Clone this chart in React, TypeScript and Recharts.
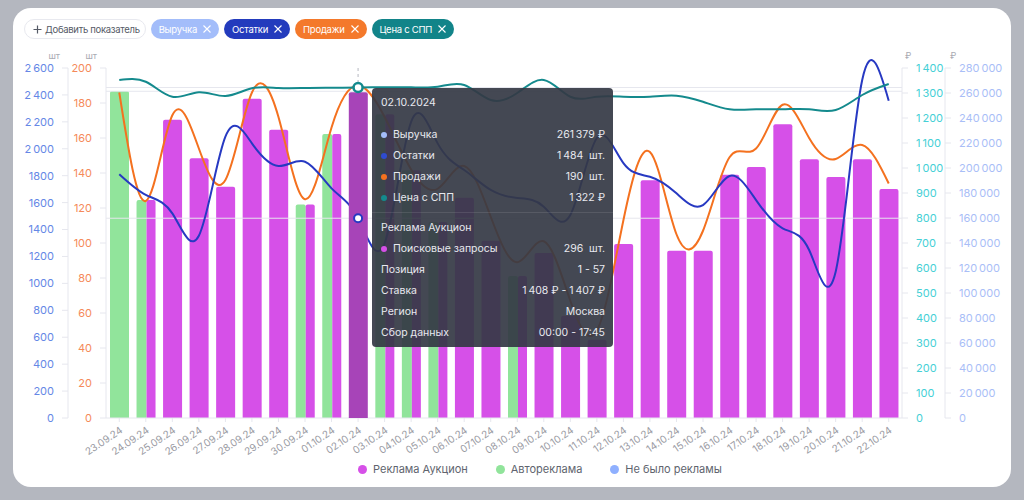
import React from "react";
import { ComposedChart, Bar, Line, XAxis, YAxis, Tooltip, ReferenceLine } from "recharts";

// ── data ────────────────────────────────────────────────────────────────
const DATES = [
  "23.09.24", "24.09.24", "25.09.24", "26.09.24", "27.09.24", "28.09.24", "29.09.24", "30.09.24",
  "01.10.24", "02.10.24", "03.10.24", "04.10.24", "05.10.24", "06.10.24", "07.10.24", "08.10.24",
  "09.10.24", "10.10.24", "11.10.24", "12.10.24", "13.10.24", "14.10.24", "15.10.24", "16.10.24",
  "17.10.24", "18.10.24", "19.10.24", "20.10.24", "21.10.24", "22.10.24",
];
// auto = Автореклама, auction = Реклама Аукцион, mixed = both
const AD_TYPES = [
  "auto", "mixed", "auction", "auction", "auction", "auction", "auction", "mixed",
  "mixed", "auction", "mixed", "mixed", "mixed", "auction", "auction", "mixed",
  "auction", "auction", "auction", "auction", "auction", "auction", "auction", "auction",
  "auction", "auction", "auction", "auction", "auction", "auction",
];
const QUERIES = [297, 198, 271, 236, 210, 290, 262, 194, 258, 296, 276, 225, 178, 200, 161, 129, 150, 93, 71, 158, 216, 152, 152, 221, 228, 267, 235, 219, 235, 208];
const STOCK = [1810, 1657, 1520, 1354, 2090, 2040, 1872, 1904, 1706, 1484, 1298, 2200, 2040, 1842, 1694, 1634, 1570, 1508, 2080, 1894, 1792, 1669, 1582, 1798, 1619, 1409, 1248, 1087, 2511, 2357];
const SALES = [186, 124, 173, 154, 136, 186, 172, 125, 166, 190, 172, 142, 131, 144, 115, 89, 101, 67, 50, 113, 152, 105, 107, 149, 154, 179, 160, 148, 156, 134];
const PRICE = [1352, 1345, 1285, 1303, 1288, 1319, 1320, 1320, 1321, 1322, 1323, 1323, 1325, 1332, 1272, 1300, 1352, 1285, 1285, 1285, 1285, 1289, 1265, 1235, 1235, 1235, 1235, 1232, 1292, 1336];

const STOCK_TICKS = [0, 200, 400, 600, 800, 1000, 1200, 1400, 1600, 1800, 2000, 2200, 2400, 2600];
const SALES_TICKS = [0, 20, 40, 60, 80, 100, 120, 140, 160, 180, 200];
const PRICE_TICKS = [0, 100, 200, 300, 400, 500, 600, 700, 800, 900, 1000, 1100, 1200, 1300, 1400];
const REVENUE_TICKS = [0, 20000, 40000, 60000, 80000, 100000, 120000, 140000, 160000, 180000, 200000, 220000, 240000, 260000, 280000];

const ACTIVE_INDEX = 9;
const ACTIVE_REVENUE = 261379;
const ACTIVE_DETAILS = [
  ["Позиция", "1 - 57"],
  ["Ставка", "1\u202f408 ₽ - 1\u202f407 ₽"],
  ["Регион", "Москва"],
  ["Сбор данных", "00:00 - 17:45"],
];

const BLUE = "#2739c2";
const ORANGE = "#f4711f";
const TEAL = "#148a8d";
const PURPLE = "#d650e8";
const PURPLE_ACTIVE = "#a744b8";
const GREEN = "#91e49b";
const LIGHT_BLUE = "#a3bdfa";

const CHIPS = [
  { label: "Выручка", color: LIGHT_BLUE },
  { label: "Остатки", color: "#233bbd" },
  { label: "Продажи", color: "#f4792b" },
  { label: "Цена с СПП", color: "#128489" },
];
const LEGEND = [
  { label: "Реклама Аукцион", color: PURPLE },
  { label: "Автореклама", color: GREEN },
  { label: "Не было рекламы", color: "#8fb0ff" },
];

const data = DATES.map((date, i) => ({
  date, type: AD_TYPES[i], queries: QUERIES[i], stock: STOCK[i], sales: SALES[i], price: PRICE[i],
}));

const FONT = "Inter, 'Noto Sans', sans-serif";
const GRID = "#e6e7ee";
// narrow no-break space: thin gap like the original, and recharts won't wrap it
const spaced = (v: number) => v.toString().replace(/\B(?=(\d{3})+(?!\d))/g, "\u202f");

// ── pieces ──────────────────────────────────────────────────────────────
const topRound = (x: number, y: number, w: number, h: number, r: number) =>
  `M${x},${y + h} L${x},${y + r} Q${x},${y} ${x + r},${y} L${x + w - r},${y} Q${x + w},${y} ${x + w},${y + r} L${x + w},${y + h} Z`;

/* eslint-disable @typescript-eslint/no-explicit-any */
function AdBar({ x, y, width, height, payload, highlighted }: any) {
  if (!height || height <= 0) return null;
  const main = highlighted ? PURPLE_ACTIVE : PURPLE;
  if (payload.type === "auto") return <path d={topRound(x, y, width, height, 2)} fill={GREEN} />;
  if (payload.type === "mixed") {
    const w1 = (width * 10) / 19;
    return (
      <g>
        <path d={topRound(x, y, w1, height, 2)} fill={GREEN} />
        <path d={topRound(x + w1, y, width - w1, height, 2)} fill={main} />
      </g>
    );
  }
  return <path d={topRound(x, y, width, height, 2)} fill={main} />;
}

function DateTick({ x, y, payload }: any) {
  const tx = x + 4;
  const ty = y + 8;
  return (
    <text x={tx} y={ty} transform={`rotate(-34 ${tx} ${ty})`} textAnchor="end" fontSize={10} fill="#9a9ba3" fontFamily={FONT}>
      {payload.value}
    </text>
  );
}

const unit = (text: string, dx: (w: number) => number, anchor: "start" | "end") => ({
  content: ({ viewBox }: any) =>
    viewBox ? (
      <text x={viewBox.x + dx(viewBox.width)} y={viewBox.y - 9} textAnchor={anchor} fontSize={9} fill="#a9aab2" fontFamily={FONT}>
        {text}
      </text>
    ) : null,
});

function Tip({ active, label }: any) {
  if (!active) return null;
  const row = data.find((d) => d.date === label);
  if (!row) return null;
  const full = row.date.slice(0, 6) + "20" + row.date.slice(6);
  const lines = [
    { name: "Выручка", color: LIGHT_BLUE, value: `${spaced(ACTIVE_REVENUE)} ₽` },
    { name: "Остатки", color: "#2f4bd0", value: `${spaced(row.stock)}  шт.` },
    { name: "Продажи", color: ORANGE, value: `${row.sales}  шт.` },
    { name: "Цена с СПП", color: TEAL, value: `${spaced(row.price)} ₽` },
  ];
  const rowStyle: React.CSSProperties = { display: "flex", alignItems: "center", height: 21, justifyContent: "space-between" };
  return (
    <div style={{
      width: 241, height: 259, boxSizing: "border-box", padding: "6px 8px 0 9px", borderRadius: 4,
      background: "rgba(52,56,68,0.92)", color: "#e8e9ef", fontSize: 10.5, fontFamily: FONT,
    }}>
      <div style={{ height: 18, lineHeight: "18px", marginBottom: 12 }}>{full}</div>
      {lines.map((l) => (
        <div key={l.name} style={rowStyle}>
          <span style={{ display: "flex", alignItems: "center" }}>
            <span style={{ width: 6, height: 6, borderRadius: 3, background: l.color, marginRight: 6 }} />
            {l.name}
          </span>
          <span style={{ whiteSpace: "pre" }}>{l.value}</span>
        </div>
      ))}
      <div style={{ height: 1, background: "rgba(255,255,255,0.1)", margin: "4px -8px 4px -9px" }} />
      <div style={rowStyle}>Реклама Аукцион</div>
      <div style={rowStyle}>
        <span style={{ display: "flex", alignItems: "center" }}>
          <span style={{ width: 6, height: 6, borderRadius: 3, background: PURPLE, marginRight: 6 }} />
          Поисковые запросы
        </span>
        <span style={{ whiteSpace: "pre" }}>{`${row.queries}  шт.`}</span>
      </div>
      {ACTIVE_DETAILS.map(([k, v]) => (
        <div key={k} style={rowStyle}>
          <span>{k}</span>
          <span>{v}</span>
        </div>
      ))}
    </div>
  );
}
/* eslint-enable @typescript-eslint/no-explicit-any */

function XIcon({ color }: { color: string }) {
  return (
    <svg width="8" height="8" viewBox="0 0 8 8" style={{ marginLeft: 6 }}>
      <path d="M0.5 0.5 L7.5 7.5 M7.5 0.5 L0.5 7.5" stroke={color} strokeWidth="1.1" />
    </svg>
  );
}

// ── chart ───────────────────────────────────────────────────────────────
export default function App() {
  const axisLine = { stroke: GRID };
  const activeDate = DATES[ACTIVE_INDEX];
  return (
    <div style={{ position: "absolute", left: 0, top: 0, width: 1024, height: 500, background: "#b4b7bf", fontFamily: FONT, overflow: "hidden" }}>
      <div style={{ position: "absolute", left: 13, top: 8, width: 998, height: 479, background: "#fff", borderRadius: 18 }} />

      {/* metric chips */}
      <div style={{ position: "absolute", left: 24, top: 19, display: "flex", gap: 5 }}>
        <div style={{
          height: 20, boxSizing: "border-box", border: "1px solid #e8e9ef", borderRadius: 10, padding: "0 5px 0 8px",
          display: "flex", alignItems: "center", fontSize: 9.5, letterSpacing: -0.3, color: "#555a66",
        }}>
          <svg width="9" height="9" viewBox="0 0 9 9" style={{ marginRight: 3 }}>
            <path d="M4.5 0.5 V8.5 M0.5 4.5 H8.5" stroke="#555a66" strokeWidth="1.2" />
          </svg>
          Добавить показатель
        </div>
        {CHIPS.map((c) => (
          <div key={c.label} style={{
            height: 20, borderRadius: 10, padding: "0 8px 0 8px", background: c.color, color: "#fff",
            display: "flex", alignItems: "center", fontSize: 9.5, letterSpacing: -0.25,
          }}>
            {c.label}
            <XIcon color="#fff" />
          </div>
        ))}
      </div>

      <div style={{ position: "absolute", left: 0, top: 0 }}>
        <ComposedChart width={1024} height={500} data={data} margin={{ top: 68, right: 29, bottom: 42, left: 28 }} barSize={19}>
          <XAxis dataKey="date" height={40} interval={0} axisLine={axisLine} tickLine={{ stroke: GRID }} tickSize={4} tick={<DateTick />} />
          <YAxis yAxisId="queries" hide width={0} domain={[0, 318]} />
          <YAxis yAxisId="sales" orientation="left" width={38} domain={[0, 200]} ticks={SALES_TICKS} interval={0}
            axisLine={axisLine} tickLine={{ stroke: GRID }} tickSize={6} tickMargin={8}
            tick={{ fill: "#f58a5a", fontSize: 11, fontFamily: FONT }} label={unit("шт", (w) => w - 9, "end")} />
          <YAxis yAxisId="stock" orientation="left" width={40} domain={[0, 2600]} ticks={STOCK_TICKS} interval={0}
            axisLine={axisLine} tickLine={{ stroke: GRID }} tickSize={6} tickMargin={8}
            tickFormatter={(v: number) => (v >= 2000 ? spaced(v) : String(v))}
            tick={{ fill: "#6587e6", fontSize: 11, fontFamily: FONT }} label={unit("шт", (w) => w - 8, "end")} />
          <YAxis yAxisId="price" orientation="right" width={43} domain={[0, 1400]} ticks={PRICE_TICKS} interval={0}
            axisLine={axisLine} tickLine={{ stroke: GRID }} tickSize={6} tickMargin={8} tickFormatter={spaced}
            tick={{ fill: "#45d0d6", fontSize: 11, fontFamily: FONT }} label={unit("₽", () => 3, "start")} />
          <YAxis yAxisId="revenue" orientation="right" width={50} type="number" domain={[0, 280000]} allowDataOverflow
            ticks={REVENUE_TICKS} interval={0}
            axisLine={axisLine} tickLine={{ stroke: GRID }} tickSize={6} tickMargin={8} tickFormatter={spaced}
            tick={{ fill: "#a9bef7", fontSize: 11, fontFamily: FONT }} label={unit("₽", () => 5, "start")} />

          {/* crosshair lines at the hovered values */}
          <ReferenceLine yAxisId="revenue" y={ACTIVE_REVENUE} stroke={GRID} />
          <ReferenceLine yAxisId="price" y={PRICE[ACTIVE_INDEX]} stroke={GRID} />
          <ReferenceLine yAxisId="stock" y={STOCK[ACTIVE_INDEX]} stroke={GRID} />
          <ReferenceLine yAxisId="price" segment={[{ x: activeDate, y: 1400 }, { x: activeDate, y: 1342 }]} stroke="#b5b7c0" strokeDasharray="3 3" />

          <Bar yAxisId="queries" dataKey="queries" isAnimationActive={false}
            shape={(p: any) => <AdBar {...p} />} activeBar={(p: any) => <AdBar {...p} highlighted />} />
          <Line yAxisId="sales" dataKey="sales" type="natural" stroke={ORANGE} strokeWidth={2} dot={false} activeDot={false} isAnimationActive={false} />
          <Line yAxisId="stock" dataKey="stock" type="natural" stroke={BLUE} strokeWidth={2} dot={false}
            activeDot={{ r: 4, fill: "#fff", stroke: BLUE, strokeWidth: 2 }} isAnimationActive={false} />
          <Line yAxisId="price" dataKey="price" type="natural" stroke={TEAL} strokeWidth={2} dot={false}
            activeDot={{ r: 4.5, fill: "#fff", stroke: TEAL, strokeWidth: 2.5 }} isAnimationActive={false} />

          <Tooltip defaultIndex={ACTIVE_INDEX} active cursor={false} position={{ x: 372, y: 88 }}
            isAnimationActive={false} content={<Tip />} wrapperStyle={{ outline: "none", zIndex: 5 }} />
        </ComposedChart>
      </div>

      {/* bar legend */}
      <div style={{ position: "absolute", left: 358, top: 461, display: "flex", fontSize: 11, color: "#60646e" }}>
        {LEGEND.map((l, i) => (
          <div key={l.label} style={{ display: "flex", alignItems: "center", marginLeft: i === 0 ? 0 : 28, height: 16 }}>
            <span style={{ width: 9, height: 9, borderRadius: 5, background: l.color, marginRight: 6 }} />
            {l.label}
          </div>
        ))}
      </div>
    </div>
  );
}
